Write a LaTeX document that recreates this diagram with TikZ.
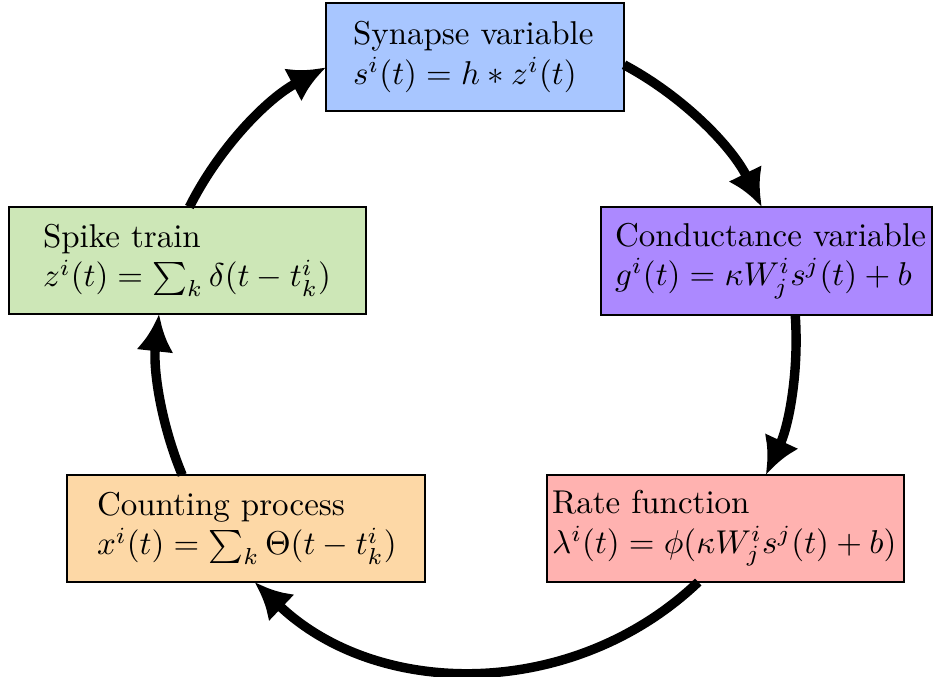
\documentclass[tikz,border=0pt]{standalone}
\usetikzlibrary{arrows.meta}
\newdimen\pxu \pxu=0.30303pt
\definecolor{cblue}{RGB}{168,198,255}
\definecolor{cpurple}{RGB}{172,137,255}
\definecolor{cred}{RGB}{255,178,176}
\definecolor{corange}{RGB}{253,216,166}
\definecolor{cgreen}{RGB}{205,231,183}
\tikzset{
  box/.style={draw=black, line width=0.5pt, rectangle, outer sep=0pt, align=left, inner ysep=0pt},
  arr/.style={line width=2.85pt, -{Latex[length=11.3pt,width=11.3pt]}, looseness=0.87}
}
\begin{document}
\begin{tikzpicture}[x=1\pxu, y=-1\pxu]
\useasboundingbox (0,0) rectangle (936,677);
\node[box, fill=cblue, inner xsep=27\pxu, text width=244\pxu, minimum width=298\pxu, minimum height=108\pxu] (syn) at (475,57)
  {\mbox{Synapse variable}\\ \mbox{$s^i(t) = h * z^i(t)$}};
\node[box, fill=cpurple, inner xsep=14\pxu, text width=303\pxu, minimum width=331\pxu, minimum height=108\pxu] (cond) at (766.5,261)
  {\mbox{Conductance variable}\\ \mbox{$g^i(t) = \kappa W^i_j s^j(t) + b$}};
\node[box, fill=cred, inner xsep=5\pxu, text width=347\pxu, minimum width=357\pxu, minimum height=107\pxu] (rate) at (725.5,528.5)
  {\mbox{Rate function}\\ \mbox{$\lambda^i(t) = \phi(\kappa W^i_j s^j(t) + b)$}};
\node[box, fill=corange, inner xsep=30\pxu, text width=298\pxu, minimum width=358\pxu, minimum height=107\pxu] (count) at (246,528.5)
  {\mbox{Counting process}\\ \mbox{$x^i(t) = \sum_k \Theta(t - t^i_k)$}};
\node[box, fill=cgreen, inner xsep=34\pxu, text width=289\pxu, minimum width=357\pxu, minimum height=107\pxu] (spike) at (187.5,260.5)
  {\mbox{Spike train}\\ \mbox{$z^i(t) = \sum_k \delta(t - t^i_k)$}};
\draw[arr] (spike.88) to[bend left=17.75] (syn.184);
\draw[arr] (syn.-3) to[bend left=17.8] (cond.95);
\draw[arr] (cond.-62) to[bend left=14.5] (rate.53);
\draw[arr, looseness=0.99] (rate.-117) to[bend left=43.6] (count.-81);
\draw[arr] (count.140) to[bend left=14.5] (spike.-118);
\end{tikzpicture}
\end{document}
